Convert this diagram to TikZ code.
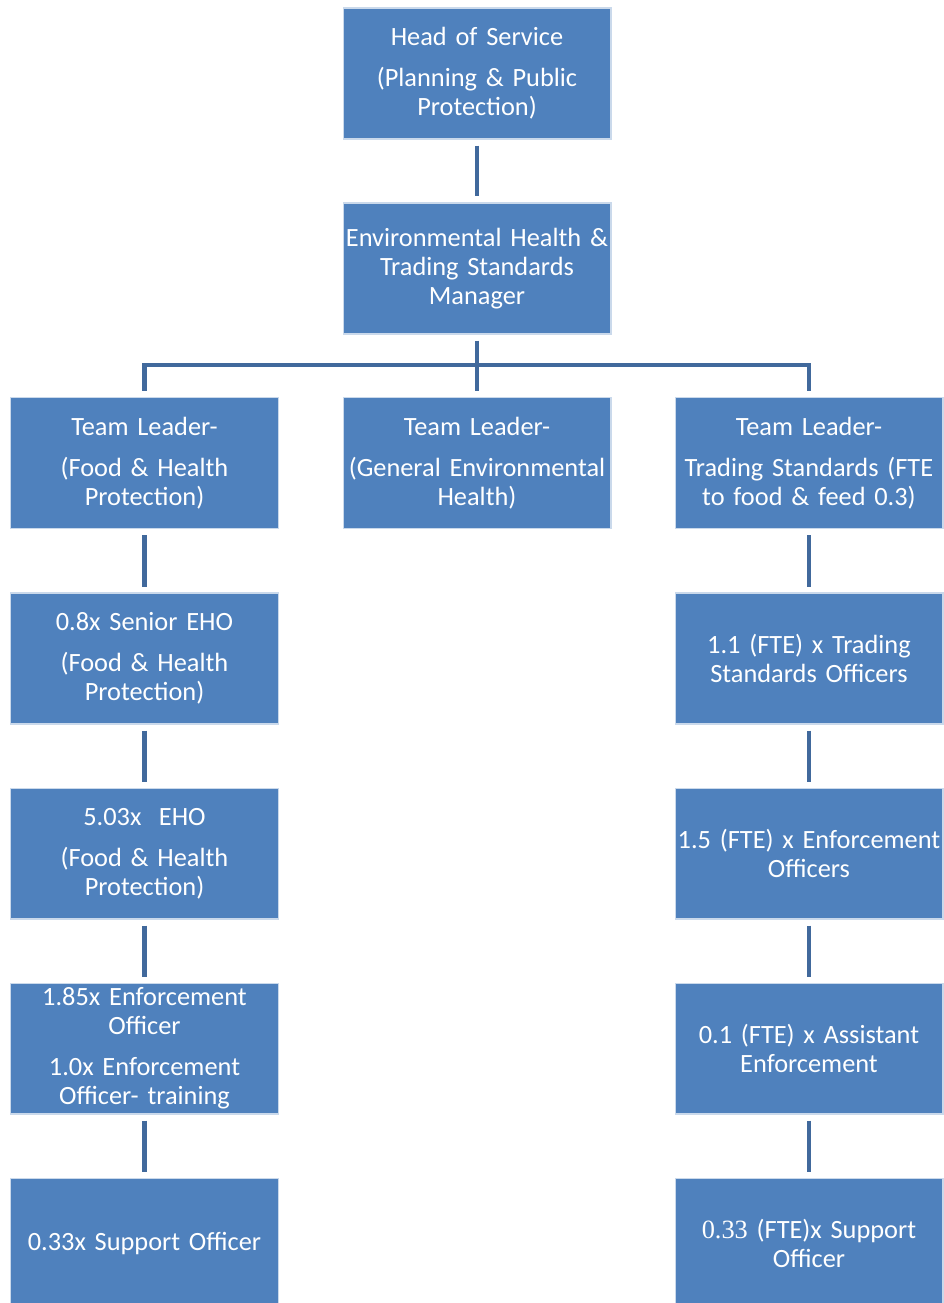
\documentclass[tikz,border=0pt]{standalone}
\usepackage{fontspec}
\setmainfont{Carlito}
\newfontfamily\numfont{Liberation Serif}
\usetikzlibrary{positioning}
\definecolor{boxblue}{HTML}{4F81BD}
\definecolor{lineblue}{HTML}{41699C}

\begin{document}
\begin{tikzpicture}[x=0.02cm,y=-0.02cm,
  post/.style={draw=white!70!boxblue, line width=0.6pt, fill=boxblue, text=white,
    align=center, minimum width=5.36cm, minimum height=2.62cm, text width=5.3cm,
    inner sep=0pt, font=\fontsize{15}{16.5}\selectfont},
  link/.style={lineblue, line width=2.8pt, shorten <=0.12cm, shorten >=0.12cm}]
\useasboundingbox (0,0) rectangle (944,1303);

% Top of the chart
\node[post] (head) at (477,73.5) {Head of Service\\[6.8pt](Planning \& Public\\Protection)};
\node[post] (mgr) at (477,268.5) {Environmental Health \&\\Trading Standards\\Manager};

% Team leaders
\node[post] (tlfood) at (144.5,463) {Team Leader-\\[6.8pt](Food \& Health\\Protection)};
\node[post] (tlgen) at (477,463) {Team Leader-\\[6.8pt](General Environmental\\Health)};
\node[post] (tltrade) at (809,463) {Team Leader-\\[6.8pt]Trading Standards (FTE\\to food \& feed 0.3)};

% Food & health column
\node[post] (srfood) at (144.5,658.5) {0.8x Senior EHO\\[6.8pt](Food \& Health\\Protection)};
\node[post] (ehofood) at (144.5,853.5) {5.03x\ \ EHO\\[6.8pt](Food \& Health\\Protection)};
\node[post] (enffood) at (144.5,1048.5) {1.85x Enforcement\\Officer\\[6.8pt]1.0x Enforcement\\Officer- training};
\node[post] (supfood) at (144.5,1243.5) {0.33x Support Officer};

% Trading standards column
\node[post] (tso) at (809,658.5) {1.1 (FTE) x Trading\\Standards Officers};
\node[post] (enftrade) at (809,853.5) {1.5 (FTE) x Enforcement\\Officers};
\node[post] (asstrade) at (809,1048.5) {0.1 (FTE) x Assistant\\Enforcement};
\node[post] (suptrade) at (809,1243.5) {{\numfont 0.33} (FTE)x Support\\Officer};

% Links
\coordinate (bar) at (477,365);
\draw[link] (head) -- (mgr);
\draw[link] (mgr) -- (tlgen);
\draw[link] (tlfood.north) |- (bar) -| (tltrade.north);
\foreach \a/\b in {tlfood/srfood, srfood/ehofood, ehofood/enffood, enffood/supfood,
    tltrade/tso, tso/enftrade, enftrade/asstrade, asstrade/suptrade}
  \draw[link] (\a) -- (\b);
\end{tikzpicture}
\end{document}
